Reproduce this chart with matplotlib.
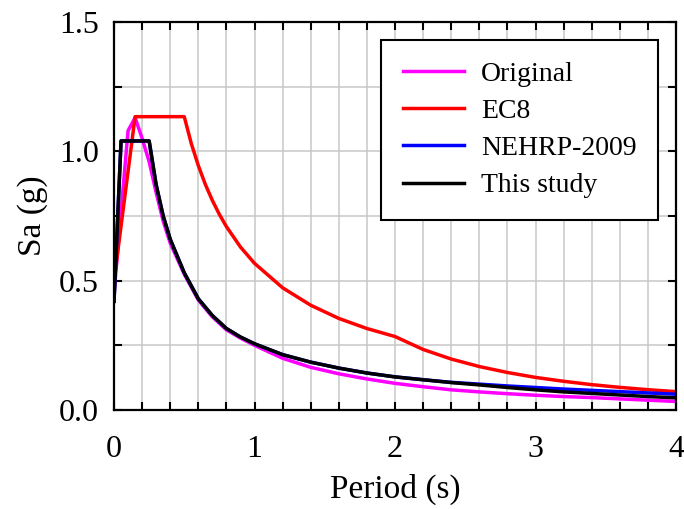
import matplotlib
matplotlib.use('Agg')
import matplotlib.pyplot as plt
from matplotlib.ticker import MultipleLocator, FormatStrFormatter

plt.rcParams['font.family'] = ['Liberation Serif', 'DejaVu Serif']
plt.rcParams['font.size'] = 23

# Original record spectrum
t_orig = [0.0, 0.1, 0.15, 0.2, 0.25, 0.3, 0.35, 0.4, 0.5, 0.6, 0.7, 0.8, 0.9, 1.0,
          1.2, 1.4, 1.6, 1.8, 2.0, 2.2, 2.4, 2.6, 2.8, 3.0, 3.2, 3.4, 3.6, 3.8, 4.0]
sa_orig = [0.45, 1.08, 1.13, 1.05, 0.96, 0.84, 0.73, 0.645, 0.525, 0.425, 0.36, 0.31, 0.278, 0.25,
           0.2, 0.165, 0.14, 0.12, 0.103, 0.09, 0.078, 0.07, 0.063, 0.057, 0.052, 0.048, 0.043, 0.038, 0.033]

# EC8 design spectrum
t_ec8 = [0.0, 0.15, 0.5, 0.55, 0.6, 0.65, 0.7, 0.75, 0.8, 0.9, 1.0, 1.2, 1.4, 1.6, 1.8, 2.0,
         2.2, 2.4, 2.6, 2.8, 3.0, 3.2, 3.4, 3.6, 3.8, 4.0]
sa_ec8 = [0.5, 1.134, 1.134, 1.03, 0.945, 0.872, 0.81, 0.756, 0.709, 0.63, 0.567, 0.4725, 0.405,
          0.354, 0.315, 0.284, 0.234, 0.197, 0.168, 0.145, 0.126, 0.111, 0.098, 0.0875, 0.0785, 0.071]

# NEHRP-2009 design spectrum
t_nehrp = [0.0, 0.05, 0.25, 0.3, 0.35, 0.4, 0.5, 0.6, 0.7, 0.8, 0.9, 1.0, 1.2, 1.4, 1.6, 1.8,
           2.0, 2.2, 2.4, 2.6, 2.8, 3.0, 3.2, 3.4, 3.6, 3.8, 4.0]
sa_nehrp = [0.42, 1.04, 1.04, 0.87, 0.75, 0.66, 0.53, 0.43, 0.365, 0.315, 0.282, 0.256, 0.214,
            0.185, 0.162, 0.143, 0.128, 0.117, 0.107, 0.1, 0.093, 0.087, 0.081, 0.076, 0.071, 0.066, 0.061]

# Proposed spectrum
t_study = [0.0, 0.05, 0.25, 0.3, 0.35, 0.4, 0.5, 0.6, 0.7, 0.8, 0.9, 1.0, 1.2, 1.4, 1.6, 1.8,
           2.0, 2.2, 2.4, 2.6, 2.8, 3.0, 3.2, 3.4, 3.6, 3.8, 4.0]
sa_study = [0.42, 1.04, 1.04, 0.87, 0.75, 0.66, 0.53, 0.43, 0.365, 0.315, 0.282, 0.256, 0.214,
            0.185, 0.162, 0.143, 0.128, 0.117, 0.106, 0.097, 0.087, 0.078, 0.07, 0.064, 0.058, 0.052, 0.047]

fig = plt.figure(figsize=(6.84, 5.09), dpi=100)
ax = fig.add_axes([0.1667, 0.1945, 0.8216, 0.7623])

ax.plot(t_orig, sa_orig, color='#ff00ff', lw=2.5, label='Original')
ax.plot(t_ec8, sa_ec8, color='#ff0000', lw=2.5, label='EC8')
ax.plot(t_nehrp, sa_nehrp, color='#0000ff', lw=2.5, label='NEHRP-2009')
ax.plot(t_study, sa_study, color='#000000', lw=2.5, label='This study')

ax.set_xlim(0, 4)
ax.set_ylim(0, 1.5)
ax.xaxis.set_major_locator(MultipleLocator(1))
ax.xaxis.set_minor_locator(MultipleLocator(0.2))
ax.yaxis.set_major_locator(MultipleLocator(0.5))
ax.yaxis.set_minor_locator(MultipleLocator(0.25))
ax.xaxis.set_major_formatter(FormatStrFormatter('%d'))
ax.yaxis.set_major_formatter(FormatStrFormatter('%.1f'))
ax.tick_params(which='both', direction='in', top=True, right=True, width=1.5, length=5.5)
ax.tick_params(axis='x', which='major', pad=18)
ax.tick_params(axis='y', which='major', pad=11)
ax.grid(which='both', color='#c8c8c8', lw=1.1)
ax.set_axisbelow(True)
for s in ax.spines.values():
    s.set_linewidth(1.6)

ax.set_xlabel('Period (s)', fontsize=24, labelpad=7)
ax.set_ylabel('Sa (g)', fontsize=24, labelpad=8)

leg = ax.legend(loc='upper right', bbox_to_anchor=(0.968, 0.954), borderaxespad=0,
                fancybox=False, framealpha=1, edgecolor='black', handlelength=2.2,
                handletextpad=0.6, labelspacing=0.42, borderpad=0.78, fontsize=20)
leg.get_frame().set_linewidth(1.5)

fig.savefig('out.png', dpi=100)
